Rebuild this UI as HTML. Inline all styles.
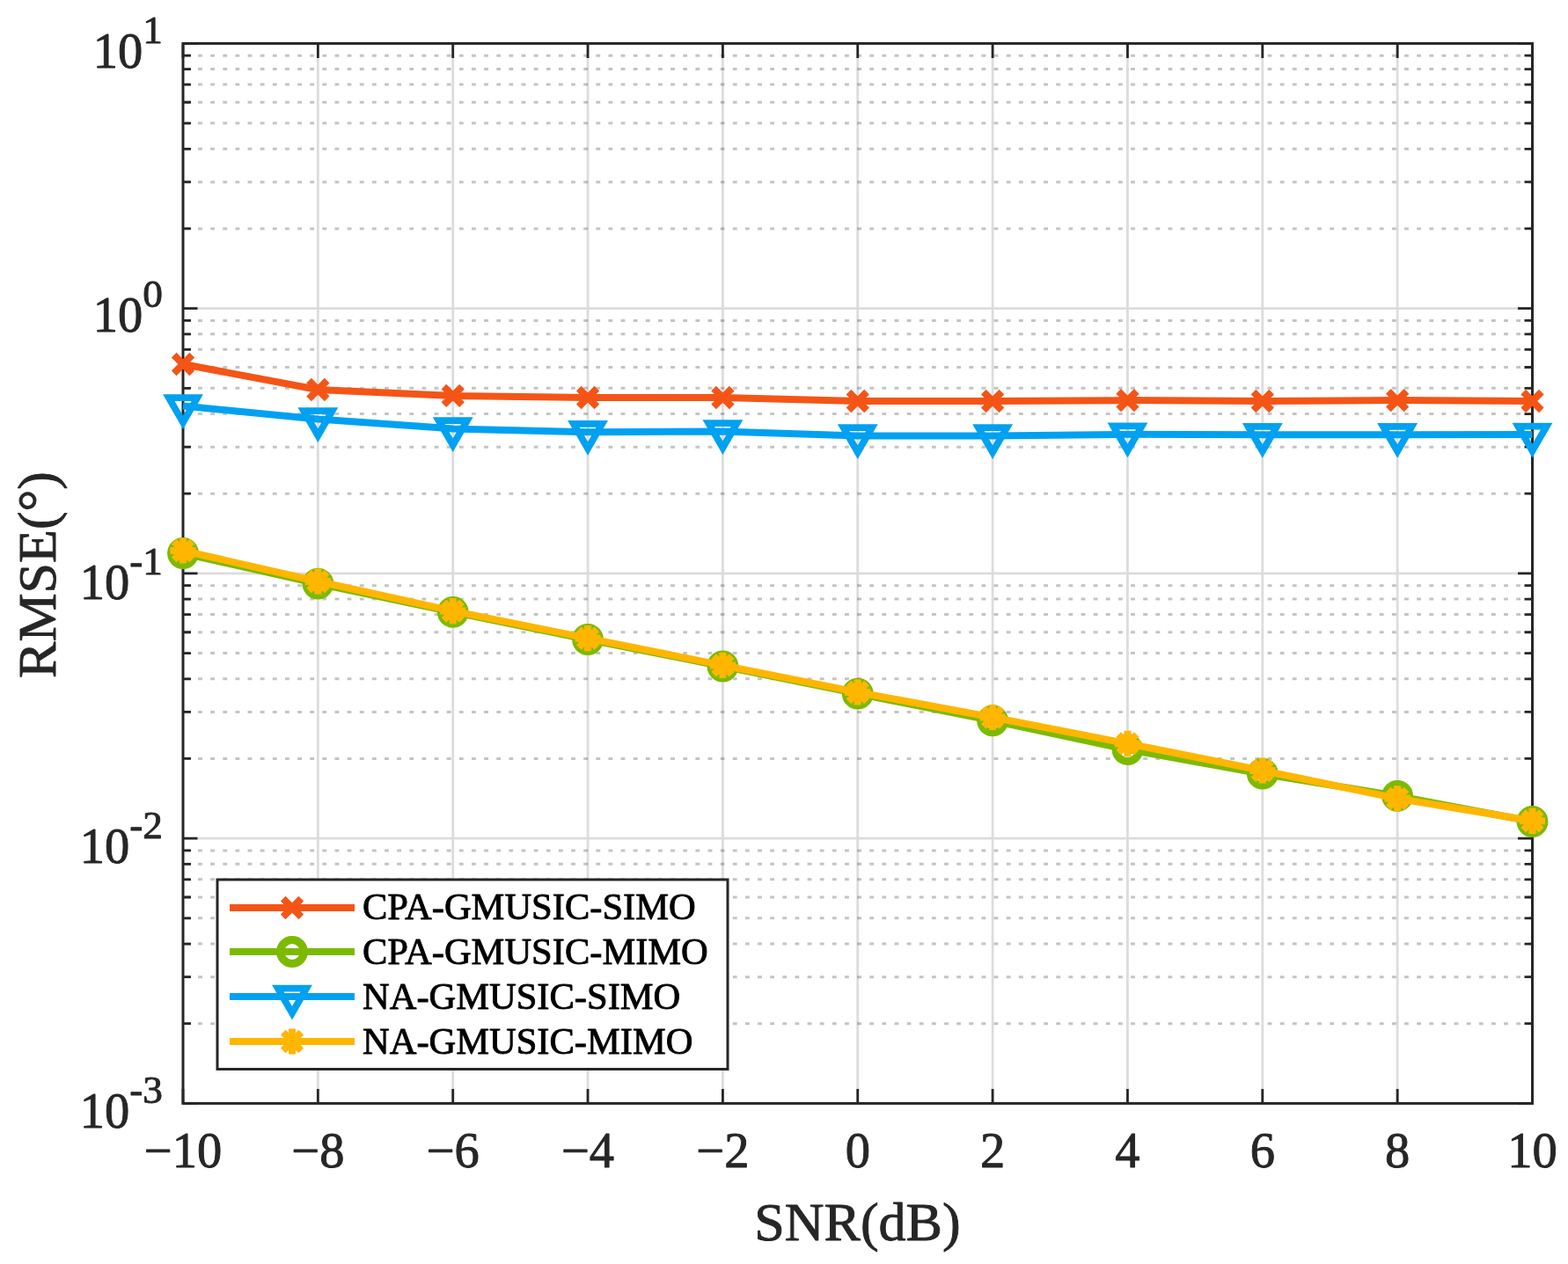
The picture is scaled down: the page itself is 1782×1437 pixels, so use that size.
<!DOCTYPE html><html><head><meta charset="utf-8"><style>html,body{margin:0;padding:0;background:#fff;}svg{display:block;}text{font-family:"Liberation Serif","Times New Roman",serif;stroke-width:0.9px;stroke-linejoin:round;}</style></head><body>
<svg width="1782" height="1437" viewBox="0 0 1782 1437">
<rect width="1782" height="1437" fill="#fff"/>
<path d="M210.9 1163.71H1741.5M210.9 1110.67H1741.5M210.9 1073.03H1741.5M210.9 1043.84H1741.5M210.9 1019.98H1741.5M210.9 999.81H1741.5M210.9 982.34H1741.5M210.9 966.93H1741.5M210.9 862.46H1741.5M210.9 809.42H1741.5M210.9 771.78H1741.5M210.9 742.59H1741.5M210.9 718.73H1741.5M210.9 698.56H1741.5M210.9 681.09H1741.5M210.9 665.68H1741.5M210.9 561.21H1741.5M210.9 508.17H1741.5M210.9 470.53H1741.5M210.9 441.34H1741.5M210.9 417.48H1741.5M210.9 397.31H1741.5M210.9 379.84H1741.5M210.9 364.43H1741.5M210.9 259.96H1741.5M210.9 206.92H1741.5M210.9 169.28H1741.5M210.9 140.09H1741.5M210.9 116.23H1741.5M210.9 96.06H1741.5M210.9 78.59H1741.5M210.9 63.18H1741.5" stroke="#262626" stroke-opacity="0.27" stroke-width="3.0" stroke-dasharray="4.85 9.284" fill="none"/>
<path d="M361.35 49.4V1254.4M514.70 49.4V1254.4M668.05 49.4V1254.4M821.40 49.4V1254.4M974.75 49.4V1254.4M1128.10 49.4V1254.4M1281.45 49.4V1254.4M1434.80 49.4V1254.4M1588.15 49.4V1254.4M208.0 953.15H1741.5M208.0 651.90H1741.5M208.0 350.65H1741.5" stroke="#262626" stroke-opacity="0.16" stroke-width="2.8" fill="none"/>
<path d="M208.0 1254.40h16.5M1741.5 1254.40h-16.5M208.0 953.15h16.5M1741.5 953.15h-16.5M208.0 651.90h16.5M1741.5 651.90h-16.5M208.0 350.65h16.5M1741.5 350.65h-16.5M208.0 49.40h16.5M1741.5 49.40h-16.5M208.0 1163.71h9.0M1741.5 1163.71h-9.0M208.0 1110.67h9.0M1741.5 1110.67h-9.0M208.0 1073.03h9.0M1741.5 1073.03h-9.0M208.0 1043.84h9.0M1741.5 1043.84h-9.0M208.0 1019.98h9.0M1741.5 1019.98h-9.0M208.0 999.81h9.0M1741.5 999.81h-9.0M208.0 982.34h9.0M1741.5 982.34h-9.0M208.0 966.93h9.0M1741.5 966.93h-9.0M208.0 862.46h9.0M1741.5 862.46h-9.0M208.0 809.42h9.0M1741.5 809.42h-9.0M208.0 771.78h9.0M1741.5 771.78h-9.0M208.0 742.59h9.0M1741.5 742.59h-9.0M208.0 718.73h9.0M1741.5 718.73h-9.0M208.0 698.56h9.0M1741.5 698.56h-9.0M208.0 681.09h9.0M1741.5 681.09h-9.0M208.0 665.68h9.0M1741.5 665.68h-9.0M208.0 561.21h9.0M1741.5 561.21h-9.0M208.0 508.17h9.0M1741.5 508.17h-9.0M208.0 470.53h9.0M1741.5 470.53h-9.0M208.0 441.34h9.0M1741.5 441.34h-9.0M208.0 417.48h9.0M1741.5 417.48h-9.0M208.0 397.31h9.0M1741.5 397.31h-9.0M208.0 379.84h9.0M1741.5 379.84h-9.0M208.0 364.43h9.0M1741.5 364.43h-9.0M208.0 259.96h9.0M1741.5 259.96h-9.0M208.0 206.92h9.0M1741.5 206.92h-9.0M208.0 169.28h9.0M1741.5 169.28h-9.0M208.0 140.09h9.0M1741.5 140.09h-9.0M208.0 116.23h9.0M1741.5 116.23h-9.0M208.0 96.06h9.0M1741.5 96.06h-9.0M208.0 78.59h9.0M1741.5 78.59h-9.0M208.0 63.18h9.0M1741.5 63.18h-9.0M208.00 1254.4v-16.5M208.00 49.4v16.5M361.35 1254.4v-16.5M361.35 49.4v16.5M514.70 1254.4v-16.5M514.70 49.4v16.5M668.05 1254.4v-16.5M668.05 49.4v16.5M821.40 1254.4v-16.5M821.40 49.4v16.5M974.75 1254.4v-16.5M974.75 49.4v16.5M1128.10 1254.4v-16.5M1128.10 49.4v16.5M1281.45 1254.4v-16.5M1281.45 49.4v16.5M1434.80 1254.4v-16.5M1434.80 49.4v16.5M1588.15 1254.4v-16.5M1588.15 49.4v16.5M1741.50 1254.4v-16.5M1741.50 49.4v16.5" stroke="#262626" stroke-width="2.8" fill="none"/>
<rect x="208.0" y="49.4" width="1533.5" height="1205.0" stroke="#262626" stroke-width="3" fill="none"/>
<polyline points="208.00,414.00 361.35,443.00 514.70,449.90 668.05,452.00 821.40,452.00 974.75,456.00 1128.10,456.00 1281.45,455.10 1434.80,456.00 1588.15,455.10 1741.50,456.00" stroke="#F45516" stroke-width="8" fill="none" stroke-linejoin="round"/>
<path d="M197.70 403.70L218.30 424.30M197.70 424.30L218.30 403.70" stroke="#F45516" stroke-width="8" fill="none"/>
<path d="M351.05 432.70L371.65 453.30M351.05 453.30L371.65 432.70" stroke="#F45516" stroke-width="8" fill="none"/>
<path d="M504.40 439.60L525.00 460.20M504.40 460.20L525.00 439.60" stroke="#F45516" stroke-width="8" fill="none"/>
<path d="M657.75 441.70L678.35 462.30M657.75 462.30L678.35 441.70" stroke="#F45516" stroke-width="8" fill="none"/>
<path d="M811.10 441.70L831.70 462.30M811.10 462.30L831.70 441.70" stroke="#F45516" stroke-width="8" fill="none"/>
<path d="M964.45 445.70L985.05 466.30M964.45 466.30L985.05 445.70" stroke="#F45516" stroke-width="8" fill="none"/>
<path d="M1117.80 445.70L1138.40 466.30M1117.80 466.30L1138.40 445.70" stroke="#F45516" stroke-width="8" fill="none"/>
<path d="M1271.15 444.80L1291.75 465.40M1271.15 465.40L1291.75 444.80" stroke="#F45516" stroke-width="8" fill="none"/>
<path d="M1424.50 445.70L1445.10 466.30M1424.50 466.30L1445.10 445.70" stroke="#F45516" stroke-width="8" fill="none"/>
<path d="M1577.85 444.80L1598.45 465.40M1577.85 465.40L1598.45 444.80" stroke="#F45516" stroke-width="8" fill="none"/>
<path d="M1731.20 445.70L1751.80 466.30M1731.20 466.30L1751.80 445.70" stroke="#F45516" stroke-width="8" fill="none"/>
<polyline points="208.00,629.00 361.35,663.60 514.70,695.80 668.05,727.00 821.40,757.50 974.75,788.70 1128.10,819.30 1281.45,852.10 1434.80,879.70 1588.15,904.90 1741.50,934.00" stroke="#7CBA00" stroke-width="8" fill="none" stroke-linejoin="round"/>
<circle cx="208.00" cy="629.00" r="13.4" stroke="#7CBA00" stroke-width="9" fill="none"/>
<circle cx="361.35" cy="663.60" r="13.4" stroke="#7CBA00" stroke-width="9" fill="none"/>
<circle cx="514.70" cy="695.80" r="13.4" stroke="#7CBA00" stroke-width="9" fill="none"/>
<circle cx="668.05" cy="727.00" r="13.4" stroke="#7CBA00" stroke-width="9" fill="none"/>
<circle cx="821.40" cy="757.50" r="13.4" stroke="#7CBA00" stroke-width="9" fill="none"/>
<circle cx="974.75" cy="788.70" r="13.4" stroke="#7CBA00" stroke-width="9" fill="none"/>
<circle cx="1128.10" cy="819.30" r="13.4" stroke="#7CBA00" stroke-width="9" fill="none"/>
<circle cx="1281.45" cy="852.10" r="13.4" stroke="#7CBA00" stroke-width="9" fill="none"/>
<circle cx="1434.80" cy="879.70" r="13.4" stroke="#7CBA00" stroke-width="9" fill="none"/>
<circle cx="1588.15" cy="904.90" r="13.4" stroke="#7CBA00" stroke-width="9" fill="none"/>
<circle cx="1741.50" cy="934.00" r="13.4" stroke="#7CBA00" stroke-width="9" fill="none"/>
<polyline points="208.00,461.50 361.35,476.40 514.70,487.40 668.05,491.20 821.40,490.40 974.75,495.40 1128.10,495.40 1281.45,493.80 1434.80,494.30 1588.15,494.30 1741.50,493.90" stroke="#00A1F1" stroke-width="8" fill="none" stroke-linejoin="round"/>
<path d="M191.81 452.15L224.19 452.15L208.00 480.20Z" stroke="#00A1F1" stroke-width="7.8" fill="none" stroke-linejoin="miter" stroke-miterlimit="10"/>
<path d="M345.16 467.05L377.54 467.05L361.35 495.10Z" stroke="#00A1F1" stroke-width="7.8" fill="none" stroke-linejoin="miter" stroke-miterlimit="10"/>
<path d="M498.51 478.05L530.89 478.05L514.70 506.10Z" stroke="#00A1F1" stroke-width="7.8" fill="none" stroke-linejoin="miter" stroke-miterlimit="10"/>
<path d="M651.86 481.85L684.24 481.85L668.05 509.90Z" stroke="#00A1F1" stroke-width="7.8" fill="none" stroke-linejoin="miter" stroke-miterlimit="10"/>
<path d="M805.21 481.05L837.59 481.05L821.40 509.10Z" stroke="#00A1F1" stroke-width="7.8" fill="none" stroke-linejoin="miter" stroke-miterlimit="10"/>
<path d="M958.56 486.05L990.94 486.05L974.75 514.10Z" stroke="#00A1F1" stroke-width="7.8" fill="none" stroke-linejoin="miter" stroke-miterlimit="10"/>
<path d="M1111.91 486.05L1144.29 486.05L1128.10 514.10Z" stroke="#00A1F1" stroke-width="7.8" fill="none" stroke-linejoin="miter" stroke-miterlimit="10"/>
<path d="M1265.26 484.45L1297.64 484.45L1281.45 512.50Z" stroke="#00A1F1" stroke-width="7.8" fill="none" stroke-linejoin="miter" stroke-miterlimit="10"/>
<path d="M1418.61 484.95L1450.99 484.95L1434.80 513.00Z" stroke="#00A1F1" stroke-width="7.8" fill="none" stroke-linejoin="miter" stroke-miterlimit="10"/>
<path d="M1571.96 484.95L1604.34 484.95L1588.15 513.00Z" stroke="#00A1F1" stroke-width="7.8" fill="none" stroke-linejoin="miter" stroke-miterlimit="10"/>
<path d="M1725.31 484.55L1757.69 484.55L1741.50 512.60Z" stroke="#00A1F1" stroke-width="7.8" fill="none" stroke-linejoin="miter" stroke-miterlimit="10"/>
<polyline points="208.00,626.00 361.35,661.00 514.70,694.60 668.05,725.70 821.40,756.40 974.75,787.00 1128.10,815.50 1281.45,845.30 1434.80,876.00 1588.15,907.80 1741.50,933.30" stroke="#FFB600" stroke-width="8" fill="none" stroke-linejoin="round"/>
<path d="M197.70 615.70L218.30 636.30M197.70 636.30L218.30 615.70M208.00 611.40V640.60M193.40 626.00H222.60" stroke="#FFB600" stroke-width="8" fill="none"/>
<path d="M351.05 650.70L371.65 671.30M351.05 671.30L371.65 650.70M361.35 646.40V675.60M346.75 661.00H375.95" stroke="#FFB600" stroke-width="8" fill="none"/>
<path d="M504.40 684.30L525.00 704.90M504.40 704.90L525.00 684.30M514.70 680.00V709.20M500.10 694.60H529.30" stroke="#FFB600" stroke-width="8" fill="none"/>
<path d="M657.75 715.40L678.35 736.00M657.75 736.00L678.35 715.40M668.05 711.10V740.30M653.45 725.70H682.65" stroke="#FFB600" stroke-width="8" fill="none"/>
<path d="M811.10 746.10L831.70 766.70M811.10 766.70L831.70 746.10M821.40 741.80V771.00M806.80 756.40H836.00" stroke="#FFB600" stroke-width="8" fill="none"/>
<path d="M964.45 776.70L985.05 797.30M964.45 797.30L985.05 776.70M974.75 772.40V801.60M960.15 787.00H989.35" stroke="#FFB600" stroke-width="8" fill="none"/>
<path d="M1117.80 805.20L1138.40 825.80M1117.80 825.80L1138.40 805.20M1128.10 800.90V830.10M1113.50 815.50H1142.70" stroke="#FFB600" stroke-width="8" fill="none"/>
<path d="M1271.15 835.00L1291.75 855.60M1271.15 855.60L1291.75 835.00M1281.45 830.70V859.90M1266.85 845.30H1296.05" stroke="#FFB600" stroke-width="8" fill="none"/>
<path d="M1424.50 865.70L1445.10 886.30M1424.50 886.30L1445.10 865.70M1434.80 861.40V890.60M1420.20 876.00H1449.40" stroke="#FFB600" stroke-width="8" fill="none"/>
<path d="M1577.85 897.50L1598.45 918.10M1577.85 918.10L1598.45 897.50M1588.15 893.20V922.40M1573.55 907.80H1602.75" stroke="#FFB600" stroke-width="8" fill="none"/>
<path d="M1731.20 923.00L1751.80 943.60M1731.20 943.60L1751.80 923.00M1741.50 918.70V947.90M1726.90 933.30H1756.10" stroke="#FFB600" stroke-width="8" fill="none"/>
<g fill="#262626" stroke="#262626" font-size="56.5">
<text x="208.00" y="1326.8" text-anchor="middle">−10</text>
<text x="361.35" y="1326.8" text-anchor="middle">−8</text>
<text x="514.70" y="1326.8" text-anchor="middle">−6</text>
<text x="668.05" y="1326.8" text-anchor="middle">−4</text>
<text x="821.40" y="1326.8" text-anchor="middle">−2</text>
<text x="974.75" y="1326.8" text-anchor="middle">0</text>
<text x="1128.10" y="1326.8" text-anchor="middle">2</text>
<text x="1281.45" y="1326.8" text-anchor="middle">4</text>
<text x="1434.80" y="1326.8" text-anchor="middle">6</text>
<text x="1588.15" y="1326.8" text-anchor="middle">8</text>
<text x="1741.50" y="1326.8" text-anchor="middle">10</text>
<text x="185" y="76.90" text-anchor="end">10<tspan dy="-28" font-size="45.3">1</tspan></text>
<text x="185" y="377.00" text-anchor="end">10<tspan dy="-28" font-size="45.3">0</tspan></text>
<text x="185" y="680.70" text-anchor="end">10<tspan dy="-28" font-size="45.3">-1</tspan></text>
<text x="185" y="980.90" text-anchor="end">10<tspan dy="-28" font-size="45.3">-2</tspan></text>
<text x="185" y="1281.80" text-anchor="end">10<tspan dy="-28" font-size="45.3">-3</tspan></text>
</g>
<text x="974.5" y="1410" text-anchor="middle" font-size="62" fill="#262626" stroke="#262626">SNR(dB)</text>
<text transform="translate(62.7,653.5) rotate(-90)" x="0" y="0" text-anchor="middle" font-size="62" fill="#262626" stroke="#262626">RMSE(°)</text>
<rect x="247" y="1000" width="580" height="215.5" fill="#fff" stroke="#262626" stroke-width="3"/>
<path d="M261 1032H403" stroke="#F45516" stroke-width="8"/>
<path d="M321.70 1021.70L342.30 1042.30M321.70 1042.30L342.30 1021.70" stroke="#F45516" stroke-width="8" fill="none"/>
<text x="412" y="1045.2" font-size="42.5" fill="#000" stroke="#000">CPA-GMUSIC-SIMO</text>
<path d="M261 1082H403" stroke="#7CBA00" stroke-width="8"/>
<circle cx="332.00" cy="1082.00" r="13.4" stroke="#7CBA00" stroke-width="9" fill="none"/>
<text x="412" y="1096.4" font-size="42.5" fill="#000" stroke="#000">CPA-GMUSIC-MIMO</text>
<path d="M261 1133H403" stroke="#00A1F1" stroke-width="8"/>
<path d="M315.81 1123.65L348.19 1123.65L332.00 1151.70Z" stroke="#00A1F1" stroke-width="7.8" fill="none" stroke-linejoin="miter" stroke-miterlimit="10"/>
<text x="412" y="1146.8" font-size="42.5" fill="#000" stroke="#000">NA-GMUSIC-SIMO</text>
<path d="M261 1184H403" stroke="#FFB600" stroke-width="8"/>
<path d="M321.70 1173.70L342.30 1194.30M321.70 1194.30L342.30 1173.70M332.00 1169.40V1198.60M317.40 1184.00H346.60" stroke="#FFB600" stroke-width="8" fill="none"/>
<text x="412" y="1197.9" font-size="42.5" fill="#000" stroke="#000">NA-GMUSIC-MIMO</text>
</svg></body></html>
